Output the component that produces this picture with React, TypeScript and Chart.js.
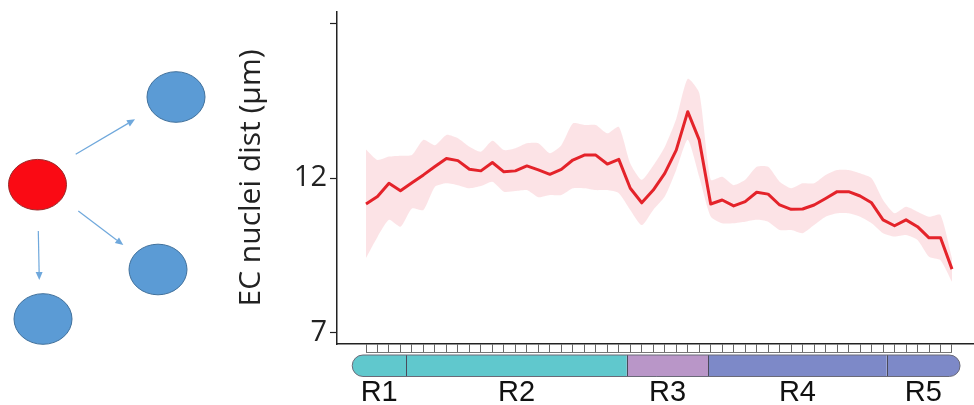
import React, { useEffect, useRef } from "react";
import { Chart, registerables } from "chart.js";

Chart.register(...registerables);

// ---- data ----
const meanValues = [
  11.16, 11.4, 11.83, 11.59, 11.85, 12.1, 12.37, 12.63, 12.56, 12.28,
  12.23, 12.5, 12.2, 12.23, 12.39, 12.26, 12.12, 12.28, 12.58, 12.74,
  12.74, 12.45, 12.6, 11.67, 11.2, 11.61, 12.15, 12.9, 14.14, 13.23,
  11.16, 11.29, 11.1, 11.24, 11.54, 11.48, 11.13, 10.99, 11.0, 11.13,
  11.34, 11.56, 11.56, 11.42, 11.2, 10.65, 10.46, 10.65, 10.43, 10.07,
  10.07, 9.06,
];
const upperValues = [
  12.92, 12.58, 12.69, 12.72, 12.74, 13.23, 13.06, 13.39, 13.28, 13.01,
  12.85, 13.2, 12.9, 12.96, 13.12, 13.12, 12.8, 13.06, 13.76, 13.71,
  13.71, 13.44, 13.65, 12.47, 11.94, 12.4, 13.0, 13.9, 15.2, 14.75,
  11.94, 12.04, 11.77, 11.94, 12.36, 12.36, 11.88, 11.67, 11.83, 11.83,
  12.1, 12.26, 12.26, 12.15, 11.99, 11.29, 10.86, 11.07, 10.91, 10.75,
  10.81, 9.41,
];
const lowerValues = [
  9.42, 10.1, 10.65, 10.43, 11.02, 10.97, 11.72, 11.83, 11.77, 11.67,
  11.74, 11.88, 11.56, 11.58, 11.61, 11.38, 11.45, 11.45, 11.67, 11.67,
  11.61, 11.61, 11.51, 10.97, 10.48, 10.97, 11.4, 12.26, 13.23, 12.04,
  10.76, 10.54, 10.54, 10.59, 10.65, 10.59, 10.32, 10.32, 10.22, 10.48,
  10.75, 10.86, 10.86, 10.75, 10.54, 10.22, 10.11, 10.16, 10.0, 9.46,
  9.35, 8.65,
];
const binIndex = meanValues.map((_, i) => i);
const yTickValues = [7, 12, 17];
const yTickLabels = ["7", "12", ""];
const yTitle = "EC nuclei dist (\u03bcm)";
const regionNames = ["R1", "R2", "R3", "R4", "R5"];
const regionBounds = [-1.2, 3.5, 22.7, 29.8, 45.3, 51.7];

// ---- styles ----
const REGION_COLORS = ["#60c8cd", "#60c8cd", "#b996c8", "#7d89c8", "#7d89c8"];
const LINE_COLOR = "#e4232a";
const BAND_COLOR = "rgba(245, 170, 180, 0.33)";
const AXIS_COLOR = "#222";
const FONT = '"Open Sans", "Noto Sans", sans-serif';

// decorative schematic on the left (not chart data)
const DIAGRAM_NODES = [
  { cx: 37.5, cy: 184.7, fill: "#fa0a14", stroke: "#9a2a2a" },
  { cx: 176, cy: 97, fill: "#5b9bd5", stroke: "#41719c" },
  { cx: 158, cy: 269.5, fill: "#5b9bd5", stroke: "#41719c" },
  { cx: 43, cy: 319, fill: "#5b9bd5", stroke: "#41719c" },
];
const DIAGRAM_ARROWS = [
  [75.7, 154.3, 135, 119.3],
  [78.3, 211, 123.3, 245],
  [38.3, 231, 39.3, 280],
];

const diagramPlugin = {
  id: "diagram",
  beforeDraw(chart: any) {
    const ctx = chart.ctx as CanvasRenderingContext2D;
    ctx.save();
    ctx.fillStyle = "#fff";
    ctx.fillRect(0, 0, chart.width, chart.height);
    ctx.strokeStyle = "#6fa8dc";
    ctx.fillStyle = "#6fa8dc";
    ctx.lineWidth = 1.2;
    for (const [x1, y1, x2, y2] of DIAGRAM_ARROWS) {
      const a = Math.atan2(y2 - y1, x2 - x1);
      const L = 8, W = 3.5;
      const bx = x2 - L * Math.cos(a), by = y2 - L * Math.sin(a);
      ctx.beginPath();
      ctx.moveTo(x1, y1);
      ctx.lineTo(bx, by);
      ctx.stroke();
      ctx.beginPath();
      ctx.moveTo(x2, y2);
      ctx.lineTo(bx + W * Math.sin(a), by - W * Math.cos(a));
      ctx.lineTo(bx - W * Math.sin(a), by + W * Math.cos(a));
      ctx.closePath();
      ctx.fill();
    }
    for (const n of DIAGRAM_NODES) {
      ctx.beginPath();
      ctx.ellipse(n.cx, n.cy, 29, 25.3, 0, 0, Math.PI * 2);
      ctx.fillStyle = n.fill;
      ctx.fill();
      ctx.strokeStyle = n.stroke;
      ctx.lineWidth = 1;
      ctx.stroke();
    }
    ctx.restore();
  },
};

function barPath(ctx: CanvasRenderingContext2D, x0: number, x1: number, top: number, h: number) {
  const r = h / 2;
  ctx.beginPath();
  ctx.moveTo(x0 + r, top);
  ctx.lineTo(x1 - r, top);
  ctx.arc(x1 - r, top + r, r, -Math.PI / 2, Math.PI / 2);
  ctx.lineTo(x0 + r, top + h);
  ctx.arc(x0 + r, top + r, r, Math.PI / 2, (Math.PI * 3) / 2);
  ctx.closePath();
}

const regionPlugin = {
  id: "regionBar",
  afterDraw(chart: any) {
    const ctx = chart.ctx as CanvasRenderingContext2D;
    const area = chart.chartArea;
    const xs = chart.scales.x;
    ctx.save();
    // comb bottom line
    const combBottom = Math.round(area.bottom + 8) + 0.5;
    ctx.strokeStyle = "#777";
    ctx.lineWidth = 1;
    ctx.beginPath();
    ctx.moveTo(xs.getPixelForValue(binIndex[0]), combBottom);
    ctx.lineTo(xs.getPixelForValue(binIndex[binIndex.length - 1]), combBottom);
    ctx.stroke();

    const top = area.bottom + 11;
    const h = 21.5;
    const bx0 = xs.getPixelForValue(regionBounds[0]);
    const bx1 = xs.getPixelForValue(regionBounds[regionBounds.length - 1]);
    ctx.save();
    barPath(ctx, bx0, bx1, top, h);
    ctx.clip();
    regionNames.forEach((_, i) => {
      const a = xs.getPixelForValue(regionBounds[i]);
      const b = xs.getPixelForValue(regionBounds[i + 1]);
      ctx.fillStyle = REGION_COLORS[i];
      ctx.fillRect(a, top, b - a, h);
    });
    ctx.restore();
    ctx.strokeStyle = "#4a4a5a";
    ctx.lineWidth = 1;
    for (let i = 1; i < regionBounds.length - 1; i++) {
      const x = Math.round(xs.getPixelForValue(regionBounds[i])) + 0.5;
      ctx.beginPath();
      ctx.moveTo(x, top);
      ctx.lineTo(x, top + h);
      ctx.stroke();
    }
    ctx.strokeStyle = "#6a6a78";
    barPath(ctx, bx0, bx1, top, h);
    ctx.stroke();

    ctx.fillStyle = "#111";
    ctx.font = '29px "Liberation Sans", Arial, sans-serif';
    ctx.textAlign = "center";
    ctx.textBaseline = "alphabetic";
    regionNames.forEach((name, i) => {
      const a = xs.getPixelForValue(regionBounds[i]);
      const b = xs.getPixelForValue(regionBounds[i + 1]);
      ctx.fillText(name, (a + b) / 2, area.bottom + 57);
    });
    ctx.restore();
  },
};

export default function App() {
  const ref = useRef<HTMLCanvasElement | null>(null);
  useEffect(() => {
    if (!ref.current) return;
    const chart = new Chart(ref.current, {
      type: "line",
      data: {
        datasets: [
          {
            label: "mean",
            data: binIndex.map((x, i) => ({ x, y: meanValues[i] })),
            borderColor: LINE_COLOR,
            borderWidth: 3,
            pointRadius: 0,
            tension: 0,
            fill: false,
            borderJoinStyle: "round",
          },
          {
            label: "upper",
            data: binIndex.map((x, i) => ({ x, y: upperValues[i] })),
            borderWidth: 0,
            borderColor: "rgba(0,0,0,0)",
            backgroundColor: BAND_COLOR,
            pointRadius: 0,
            tension: 0.2,
            fill: "+1",
          },
          {
            label: "lower",
            data: binIndex.map((x, i) => ({ x, y: lowerValues[i] })),
            borderWidth: 0,
            borderColor: "rgba(0,0,0,0)",
            pointRadius: 0,
            tension: 0.2,
            fill: false,
          },
        ],
      },
      options: {
        animation: false,
        responsive: false,
        maintainAspectRatio: false,
        layout: { padding: { top: 12, left: 0, right: 0, bottom: 0 } },
        plugins: { legend: { display: false }, tooltip: { enabled: false } },
        scales: {
          x: {
            type: "linear",
            min: -2.524,
            max: 52.915,
            afterBuildTicks: (axis: any) => {
              axis.ticks = binIndex.map((v) => ({ value: v }));
            },
            afterFit: (axis: any) => {
              axis.height = 61;
              axis.paddingLeft = 0;
              axis.paddingRight = 0;
            },
            ticks: { display: false },
            grid: {
              drawOnChartArea: false,
              drawTicks: true,
              tickLength: 8,
              tickColor: "#666",
              tickWidth: 1,
            },
            border: { display: true, color: AXIS_COLOR, width: 1.5 },
          },
          y: {
            type: "linear",
            min: 6.645,
            max: 17.355,
            afterBuildTicks: (axis: any) => {
              axis.ticks = yTickValues.map((v) => ({ value: v }));
            },
            afterFit: (axis: any) => {
              axis.width = 337;
              axis.paddingTop = 0;
              axis.paddingBottom = 0;
            },
            ticks: {
              color: AXIS_COLOR,
              font: { family: FONT, size: 29 },
              padding: 3,
              callback: (_v: any, idx: number) => yTickLabels[idx],
            },
            grid: {
              drawOnChartArea: false,
              drawTicks: true,
              tickLength: 7,
              tickColor: AXIS_COLOR,
              tickWidth: 1.2,
            },
            border: { display: true, color: AXIS_COLOR, width: 1.5 },
            title: {
              display: true,
              text: yTitle,
              color: AXIS_COLOR,
              font: { family: FONT, size: 30 },
              padding: { top: 233, bottom: 0 },
            },
          },
        },
      },
      plugins: [diagramPlugin, regionPlugin],
    } as any);
    return () => chart.destroy();
  }, []);
  return (
    <div style={{ position: "absolute", left: 0, top: 0, width: 974, height: 405 }}>
      <canvas ref={ref} width={974} height={405} style={{ width: 974, height: 405 }} />
    </div>
  );
}
